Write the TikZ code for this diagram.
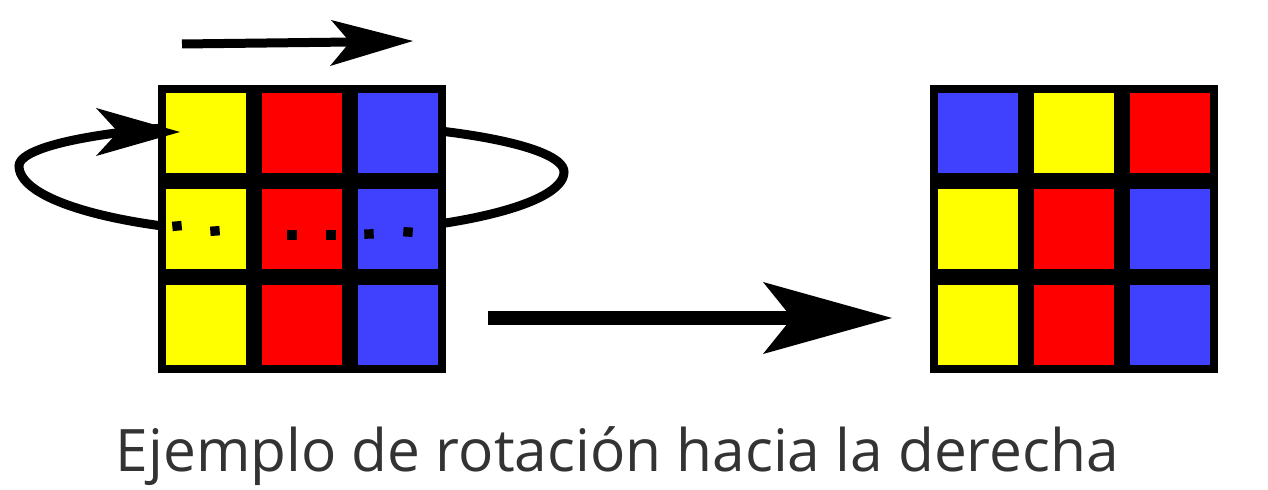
\documentclass[tikz,border=0pt]{standalone}
\usepackage{fontspec}
\newfontfamily\capfont{Open Sans}
\definecolor{cyel}{RGB}{255,255,0}
\definecolor{cred}{RGB}{255,0,0}
\definecolor{cblu}{RGB}{64,64,255}
\definecolor{ctxt}{RGB}{51,51,51}
\begin{document}
\begin{tikzpicture}[x=1bp,y=-1bp,
  loop/.style={draw=black,line width=9bp},
  shaft/.style={draw=black,line cap=butt},
  head/.style={fill=black},
  frame/.style={fill=black},
  dot/.style={fill=black}]
\useasboundingbox (0,0) rectangle (1268,490);
\fill[white] (0,0) rectangle (1268,490);

% rotation loop (behind the grid)
\draw[loop] (19,166) .. controls (19,142) and (141,123) .. (291,123)
  .. controls (441,123) and (564,145) .. (564,172)
  .. controls (564,206) and (441,234) .. (291,234)
  .. controls (141,234) and (19,204) .. (19,166) -- cycle;

% left grid
\fill[frame] (158,85) rectangle (446,373);
\foreach \c [count=\i from 0] in {cyel,cred,cblu}
  \foreach \r in {0,1,2}
    \fill[\c] ({166+96*\i},{93+96*\r}) rectangle +(80,80);

% right grid
\fill[frame] (930,85) rectangle (1218,373);
\foreach \r/\a/\b/\cc in {0/cblu/cyel/cred,1/cyel/cred/cblu,2/cyel/cred/cblu}{
  \fill[\a] (938,{93+96*\r}) rectangle +(80,80);
  \fill[\b] (1034,{93+96*\r}) rectangle +(80,80);
  \fill[\cc] (1130,{93+96*\r}) rectangle +(80,80);
}

% dots (hidden part of the loop)
\foreach \x/\y/\ang in {177/226/5,215/231/4,292/235/0,331/235/0,369/234/2,408/232/-4}
  \fill[dot,rotate around={\ang:(\x,\y)}] ({\x-4.7},{\y-4.7}) rectangle +(9.4,9.4);

% loop arrowhead
\fill[head] (180,132) -- (96,108) -- (118,132) -- (96,156) -- cycle;

% top arrow
\draw[shaft,line width=9bp] (182,44) -- (352,42);
\fill[head] (413,41) -- (331,20) -- (350,42) -- (330,66) -- cycle;

% big arrow
\draw[shaft,line width=14bp] (488,318) -- (795,318);
\fill[head] (892,318) -- (763,282) -- (792,318) -- (763,354) -- cycle;

% caption
\node[anchor=base,text=ctxt,inner sep=0,font=\capfont\fontsize{58.8}{64}\selectfont] (caption) at (617.5,471) {Ejemplo de rotación hacia la derecha};
\end{tikzpicture}
\end{document}
